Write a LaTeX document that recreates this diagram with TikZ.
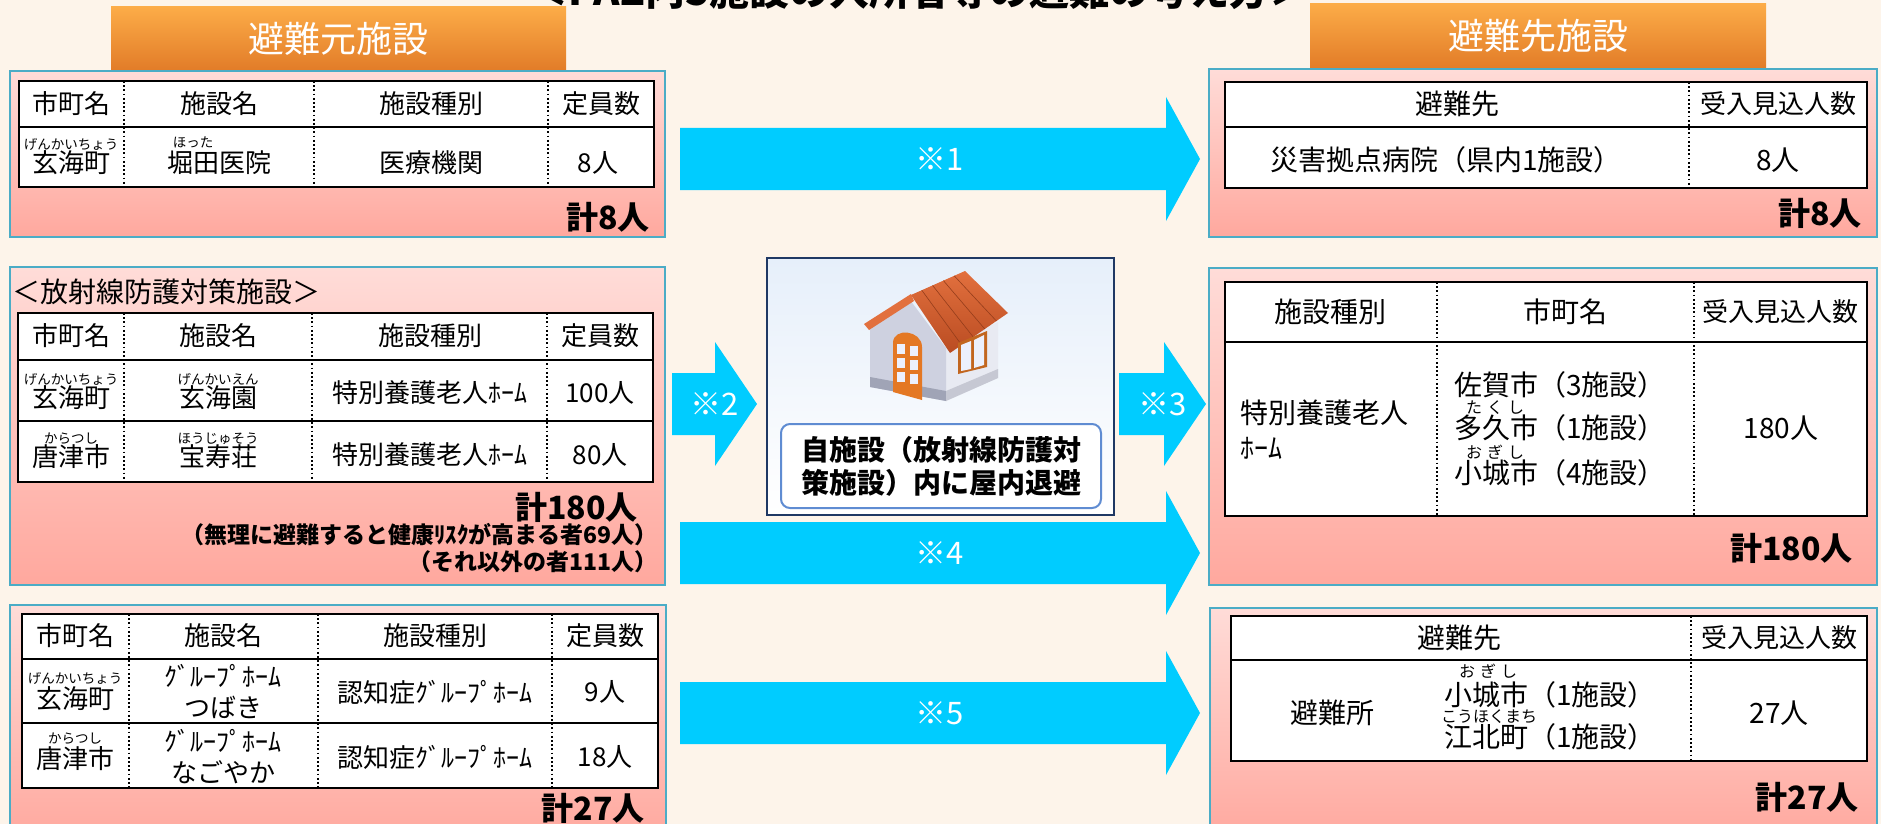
\documentclass[tikz,border=0pt]{standalone}
\usepackage{fontspec}
\setmainfont{Noto Sans CJK JP}
\usetikzlibrary{positioning}

\definecolor{pagebg}{RGB}{253,244,234}
\definecolor{flowcyan}{RGB}{0,204,255}
\definecolor{panelline}{RGB}{75,172,198}
\definecolor{paneltop}{RGB}{255,220,216}
\definecolor{panelbot}{RGB}{255,168,158}
\definecolor{hdrtop}{RGB}{252,172,72}
\definecolor{hdrmid}{RGB}{249,150,48}
\definecolor{hdrbot}{RGB}{226,124,40}
\definecolor{shelterline}{RGB}{31,56,100}
\definecolor{shelterfill}{RGB}{230,239,250}
\definecolor{labelline}{RGB}{95,140,210}
\definecolor{roofdark}{RGB}{186,76,34}
\definecolor{rooflight}{RGB}{226,112,62}
\definecolor{wallfront}{RGB}{206,209,224}
\definecolor{wallside}{RGB}{232,234,242}
\definecolor{wallbase}{RGB}{160,164,182}
\definecolor{doororange}{RGB}{228,120,36}
\definecolor{pane}{RGB}{236,240,252}

% block arrow: name, tail x, head base x, tip x, centre y, label
\newcommand{\flowarrow}[6]{%
  \fill[flowcyan] (#2,#5-31) -- (#3,#5-31) -- (#3,#5-62) -- (#4,#5)
    -- (#3,#5+62) -- (#3,#5+31) -- (#2,#5+31) -- cycle;
  \node[flowlbl] (#1) at ({(#2+#4)/2},#5) {#6};
}

\tikzset{
  panel/.style={draw=panelline, line width=2pt, top color=paneltop, bottom color=panelbot},
  hdrbox/.style={top color=hdrtop, middle color=hdrmid, bottom color=hdrbot,
    text=white, inner sep=0pt, font=\fontsize{36}{40}\selectfont},
  tblframe/.style={draw=black, line width=2.4pt, fill=white},
  tblrule/.style={line width=2pt},
  tbldots/.style={line width=1.6pt, dash pattern=on 1.8pt off 2.4pt},
  cell/.style={inner sep=0pt, align=center, font=\fontsize{26}{31}\selectfont},
  cellr/.style={cell, font=\fontsize{28}{35}\selectfont},
  ruby/.style={inner sep=0pt, font=\fontsize{13.5}{14}\selectfont},
  rubyr/.style={inner sep=0pt, font=\fontsize{16}{17}\selectfont},
  total/.style={inner sep=0pt, anchor=east, font=\bfseries\fontsize{32}{36}\selectfont},
  note/.style={inner sep=0pt, anchor=east, font=\bfseries\fontsize{23}{26}\selectfont},
  flowlbl/.style={inner sep=0pt, text=white, font=\fontsize{31}{34}\selectfont},
  shelterbox/.style={draw=shelterline, line width=2.2pt, top color=shelterfill, bottom color=white},
  stay/.style={draw=labelline, line width=2pt, rounded corners=9pt, fill=white, align=center,
    inner sep=0pt, font=\bfseries\fontsize{28}{33}\selectfont}
}

\begin{document}
\begin{tikzpicture}[x=1pt,y=-1pt]
  \useasboundingbox (0,0) rectangle (1881,824);
  \clip (0,0) rectangle (1881,824);
  \fill[pagebg] (0,0) rectangle (1881,824);

  % heading, cut at the top edge
  \node[inner sep=0pt, font=\bfseries\fontsize{40}{44}\selectfont] (title) at (919,-10)
    {＜PAZ内5施設の入所者等の避難の考え方＞};

  % panels
  \draw[panel] (10,71) rectangle (665,237);
  \draw[panel] (10,267) rectangle (665,585);
  \draw[panel] (10,605) rectangle (666,840);
  \draw[panel] (1209,69) rectangle (1877,237);
  \draw[panel] (1209,268) rectangle (1877,585);
  \draw[panel] (1210,608) rectangle (1877,840);

  % column headings
  \node[hdrbox, minimum width=455pt, minimum height=63pt] (srchead) at (338.5,38.5) {避難元施設};
  \node[hdrbox, minimum width=456pt, minimum height=64pt] (dsthead) at (1538,36) {避難先施設};

  % ---- source table 1
  \draw[tblframe] (19,81) rectangle (654,187);
  \draw[tblrule] (19,127) -- (654,127);
  \foreach \cx in {124,314,548} \draw[tbldots] (\cx,81) -- (\cx,187);
  \foreach \t/\x [count=\i] in {市町名/71,施設名/219,施設種別/431,定員数/601}
    \node[cell] (src1-h\i) at (\x,104) {\t};
  \node[cell] (src1-a) at (71,163) {玄海町};
  \node[ruby, above=0pt of src1-a] (src1-ak) {げんかいちょう};
  \node[cell] (src1-b) at (219,163) {堀田医院};
  \node[ruby] (src1-bk) at (193,142) {ほった};
  \node[cell] (src1-c) at (431,163) {医療機関};
  \node[cell] (src1-d) at (598,163) {8人};
  \node[total] (src1-sum) at (650,217) {計8人};

  % ---- source table 2
  \node[inner sep=0pt, anchor=west, font=\fontsize{28}{32}\selectfont] (src2-cap) at (12,292)
    {＜放射線防護対策施設＞};
  \draw[tblframe] (18,313) rectangle (653,482);
  \draw[tblrule] (18,360) -- (653,360);
  \draw[tblrule] (18,421) -- (653,421);
  \foreach \cx in {124,312,547} \draw[tbldots] (\cx,313) -- (\cx,482);
  \foreach \t/\x [count=\i] in {市町名/71,施設名/218,施設種別/430,定員数/600}
    \node[cell] (src2-h\i) at (\x,336) {\t};
  \node[cell] (src2-a1) at (71,398) {玄海町};
  \node[ruby, above=0pt of src2-a1] (src2-a1k) {げんかいちょう};
  \node[cell] (src2-b1) at (218,398) {玄海園};
  \node[ruby, above=0pt of src2-b1] (src2-b1k) {げんかいえん};
  \node[cell] (src2-c1) at (430,393) {特別養護老人ﾎｰﾑ};
  \node[cell] (src2-d1) at (600,393) {100人};
  \node[cell] (src2-a2) at (71,457) {唐津市};
  \node[ruby, above=0pt of src2-a2] (src2-a2k) {からつし};
  \node[cell] (src2-b2) at (218,457) {宝寿荘};
  \node[ruby, above=0pt of src2-b2] (src2-b2k) {ほうじゅそう};
  \node[cell] (src2-c2) at (430,455) {特別養護老人ﾎｰﾑ};
  \node[cell] (src2-d2) at (600,455) {80人};
  \node[total] (src2-sum) at (638,507) {計180人};
  \node[note] (src2-n1) at (658,535) {（無理に避難すると健康ﾘｽｸが高まる者69人）};
  \node[note] (src2-n2) at (658,562) {（それ以外の者111人）};

  % ---- source table 3
  \draw[tblframe] (22,614) rectangle (658,788);
  \draw[tblrule] (22,659) -- (658,659);
  \draw[tblrule] (22,723) -- (658,723);
  \foreach \cx in {129,318,552} \draw[tbldots] (\cx,614) -- (\cx,788);
  \foreach \t/\x [count=\i] in {市町名/75,施設名/223,施設種別/435,定員数/605}
    \node[cell] (src3-h\i) at (\x,636) {\t};
  \node[cell] (src3-a1) at (75,699) {玄海町};
  \node[ruby, above=2pt of src3-a1] (src3-a1k) {げんかいちょう};
  \node[cell] (src3-b1) at (223,692) {ｸﾞﾙｰﾌﾟﾎｰﾑ\\つばき};
  \node[cell] (src3-c1) at (435,692) {認知症ｸﾞﾙｰﾌﾟﾎｰﾑ};
  \node[cell] (src3-d1) at (605,692) {9人};
  \node[cell] (src3-a2) at (75,759) {唐津市};
  \node[ruby, above=2pt of src3-a2] (src3-a2k) {からつし};
  \node[cell] (src3-b2) at (223,757) {ｸﾞﾙｰﾌﾟﾎｰﾑ\\なごやか};
  \node[cell] (src3-c2) at (435,757) {認知症ｸﾞﾙｰﾌﾟﾎｰﾑ};
  \node[cell] (src3-d2) at (605,757) {18人};
  \node[total] (src3-sum) at (645,808) {計27人};

  % ---- shelter in place
  \node[shelterbox, minimum width=347pt, minimum height=257pt] (shelter) at (940.5,386.5) {};
  % house
  \fill[wallside] (946,348) -- (998,322) -- (998,378) -- (946,401) -- cycle;
  \fill[wallfront] (870,326) -- (910,300) -- (946,348) -- (946,401) -- (870,387) -- cycle;
  \fill[wallbase] (870,377) -- (946,391) -- (946,401) -- (870,387) -- cycle;
  \fill[wallbase!60!white] (946,391) -- (998,369) -- (998,378) -- (946,401) -- cycle;
  \fill[rooflight] (864,324) -- (911,294) -- (914,301) -- (869,330) -- cycle;
  \shade[top color=rooflight, bottom color=roofdark] (911,295) -- (965,271) -- (1008,313) -- (950,353) -- cycle;
  \foreach \t in {0.2,0.4,0.6,0.8}
    \draw[roofdark!80!black, line width=0.6pt] ({911+54*\t},{295-24*\t}) -- ({950+58*\t},{353-40*\t});
  \fill[doororange] (893,392) -- (893,343) .. controls (893,327) and (922,330) .. (922,347) -- (922,400) -- cycle;
  \foreach \r in {0,1,2} \foreach \c in {0,1}
    \fill[pane] ({897+13*\c},{344+14*\r+2*\c}) rectangle ++(8,10);
  \fill[doororange!85!black] (958,343) -- (987,331) -- (987,367) -- (958,374) -- cycle;
  \fill[pane] (961,345) -- (971,341) -- (971,369) -- (961,371) -- cycle;
  \fill[pane] (974,340) -- (984,335) -- (984,365) -- (974,368) -- cycle;
  \node[stay, minimum width=320pt, minimum height=84pt] (stay) at (941,466)
    {自施設（放射線防護対\\策施設）内に屋内退避};

  % ---- arrows
  \flowarrow{flow1}{680}{1166}{1200}{159}{※1}
  \flowarrow{flow2}{672}{715}{757}{404}{※2}
  \flowarrow{flow3}{1119}{1164}{1206}{404}{※3}
  \flowarrow{flow4}{680}{1166}{1200}{553}{※4}
  \flowarrow{flow5}{680}{1166}{1200}{713}{※5}

  % ---- destination table 1
  \draw[tblframe] (1225,82) rectangle (1867,188);
  \draw[tblrule] (1225,127) -- (1867,127);
  \draw[tbldots] (1689,82) -- (1689,188);
  \node[cellr] (dst1-h1) at (1457,104) {避難先};
  \node[cell] (dst1-h2) at (1778,104) {受入見込人数};
  \node[cellr] (dst1-a) at (1446,160) {災害拠点病院（県内1施設）};
  \node[cellr] (dst1-b) at (1778,160) {8人};
  \node[total] (dst1-sum) at (1862,213) {計8人};

  % ---- destination table 2
  \draw[tblframe] (1225,282) rectangle (1867,516);
  \draw[tblrule] (1225,342) -- (1867,342);
  \foreach \cx in {1437,1694} \draw[tbldots] (\cx,282) -- (\cx,516);
  \node[cellr] (dst2-h1) at (1330,312) {施設種別};
  \node[cellr] (dst2-h2) at (1565,312) {市町名};
  \node[cell] (dst2-h3) at (1780,312) {受入見込人数};
  \node[cellr, align=left, anchor=west] (dst2-a) at (1240,430) {特別養護老人\\ﾎｰﾑ};
  \node[cellr, anchor=west] (dst2-b1) at (1454,385) {佐賀市（3施設）};
  \node[cellr, anchor=west] (dst2-b2) at (1454,428) {多久市（1施設）};
  \node[cellr, anchor=west] (dst2-b3) at (1454,473) {小城市（4施設）};
  \node[rubyr, above=0pt of dst2-b2.north west, anchor=south west, xshift=12pt] (dst2-b2k) {た\hspace{5pt}く\hspace{5pt}し};
  \node[rubyr, above=0pt of dst2-b3.north west, anchor=south west, xshift=12pt] (dst2-b3k) {お\hspace{5pt}ぎ\hspace{5pt}し};
  \node[cellr] (dst2-c) at (1781,428) {180人};
  \node[total] (dst2-sum) at (1853,548) {計180人};

  % ---- destination table 3
  \draw[tblframe] (1231,616) rectangle (1867,761);
  \draw[tblrule] (1231,660) -- (1867,660);
  \draw[tbldots] (1691,616) -- (1691,761);
  \node[cellr] (dst3-h1) at (1459,638) {避難先};
  \node[cell] (dst3-h2) at (1779,638) {受入見込人数};
  \node[cellr] (dst3-a) at (1332,713) {避難所};
  \node[cellr, anchor=west] (dst3-b1) at (1444,695) {小城市（1施設）};
  \node[cellr, anchor=west] (dst3-b2) at (1444,737) {江北町（1施設）};
  \node[rubyr, above=3pt of dst3-b1.north west, anchor=south west, xshift=15pt] (dst3-b1k) {お\hspace{5pt}ぎ\hspace{5pt}し};
  \node[rubyr, above=0pt of dst3-b2.north west, anchor=south west, xshift=-3pt] (dst3-b2k) {こうほくまち};
  \node[cellr] (dst3-c) at (1779,713) {27人};
  \node[total] (dst3-sum) at (1859,797) {計27人};
\end{tikzpicture}
\end{document}
